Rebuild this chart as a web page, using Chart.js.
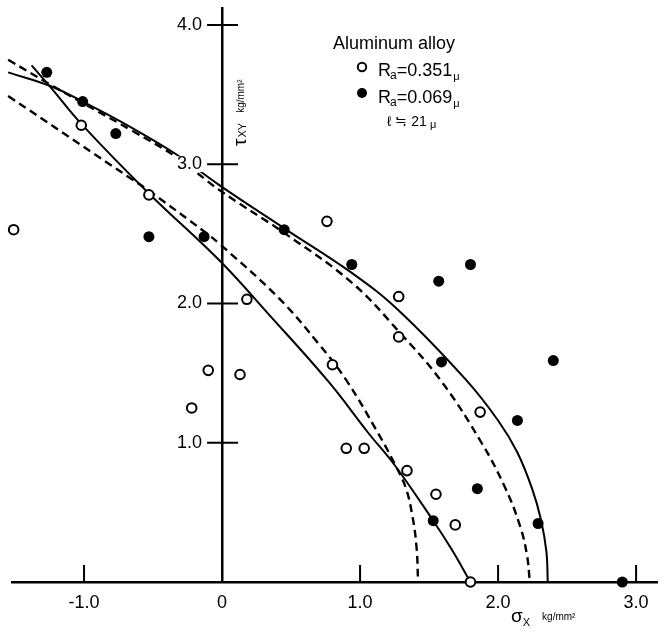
<!DOCTYPE html>
<html>
<head>
<meta charset="utf-8">
<script src="https://cdn.jsdelivr.net/npm/chart.js@4.4.1/dist/chart.umd.min.js"></script>
<style>
  html, body { margin: 0; padding: 0; background: #fff; }
</style>
</head>
<body>
<canvas id="myChart" width="664" height="633"></canvas>
<script>
const ctx = document.getElementById('myChart');

// tick values
const xTicks = [-1, 0, 1, 2, 3];
const yTicks = [1, 2, 3, 4];

// Ra = 0.351 (open circles)
const openX = [-1.51, -1.02, -0.53, -0.10, -0.22, 0.13, 0.18, 0.76, 0.80, 0.90, 1.03, 1.28, 1.28, 1.34, 1.55, 1.69, 1.87, 1.80];
const openY = [2.53, 3.28, 2.78, 1.52, 1.25, 1.49, 2.03, 2.59, 1.56, 0.96, 0.96, 2.05, 1.76, 0.80, 0.63, 0.41, 1.22, 0.00];

// Ra = 0.069 (filled circles)
const filledX = [-1.27, -1.01, -0.77, -0.53, -0.13, 0.45, 0.94, 1.57, 1.80, 1.59, 2.40, 2.14, 1.85, 1.53, 2.29, 2.90];
const filledY = [3.66, 3.45, 3.22, 2.48, 2.48, 2.53, 2.28, 2.16, 2.28, 1.58, 1.59, 1.16, 0.67, 0.44, 0.42, 0.00];

// curves
const solidInX = [-1.38, -1.24, -1.02, -0.53, -0.02, 0.34, 0.77, 1.06, 1.25, 1.53, 1.66, 1.80];
const solidInY = [3.71, 3.55, 3.29, 2.79, 2.31, 1.92, 1.44, 1.07, 0.84, 0.44, 0.24, 0.00];

const solidOutX = [-1.55, -1.24, -1.01, -0.65, -0.33, -0.02, 0.45, 0.94, 1.28, 1.76, 2.00, 2.14, 2.25, 2.31, 2.35, 2.36];
const solidOutY = [3.66, 3.56, 3.45, 3.26, 3.07, 2.85, 2.54, 2.22, 1.95, 1.46, 1.16, 0.93, 0.66, 0.45, 0.22, 0.00];

const dashInX = [-1.55, -0.65, -0.53, -0.12, -0.02, 0.41, 0.70, 0.90, 1.13, 1.25, 1.33, 1.38, 1.41, 1.42];
const dashInY = [3.49, 2.89, 2.81, 2.51, 2.43, 2.04, 1.71, 1.45, 1.07, 0.85, 0.68, 0.47, 0.24, 0.00];

const dashOutX = [-1.55, -1.24, -1.01, -0.65, -0.33, -0.02, 0.46, 0.94, 1.28, 1.59, 1.88, 2.05, 2.16, 2.21, 2.23];
const dashOutY = [3.75, 3.57, 3.44, 3.24, 3.05, 2.815, 2.50, 2.15, 1.80, 1.44, 1.00, 0.68, 0.40, 0.19, 0.00];

const pts = (xs, ys) => xs.map((x, i) => ({x: x, y: ys[i]}));

const curve = (xs, ys, dash) => ({
    data: pts(xs, ys),
    showLine: true,
    pointRadius: 0,
    borderColor: '#000',
    borderWidth: dash ? 2.4 : 2,
    borderDash: dash ? [8, 5] : [],
    tension: 0.4,
    clip: false
});

const font = 'Liberation Sans, Arial, sans-serif';

function txt(c, s, x, y, size) {
    c.font = size + 'px ' + font;
    c.fillText(s, x, y);
    return x + c.measureText(s).width;
}

const decor = {
    id: 'decor',
    afterDraw(chart) {
        const c = chart.ctx;
        const xs = chart.scales.x, ys = chart.scales.y;
        const x0 = xs.getPixelForValue(0), y0 = ys.getPixelForValue(0);
        c.save();
        c.strokeStyle = '#000';
        c.fillStyle = '#000';
        c.lineWidth = 2;
        // tick marks
        xTicks.forEach(v => {
            if (v === 0) return;
            const px = xs.getPixelForValue(v);
            c.beginPath(); c.moveTo(px, y0); c.lineTo(px, y0 - 17); c.stroke();
        });
        yTicks.forEach(v => {
            const py = ys.getPixelForValue(v);
            c.beginPath(); c.moveTo(x0 - 15, py); c.lineTo(x0 + 16, py); c.stroke();
        });

        // legend
        c.textBaseline = 'alphabetic';
        c.textAlign = 'left';
        txt(c, 'Aluminum alloy', 333, 49, 18);
        c.beginPath(); c.arc(362, 67, 4.2, 0, Math.PI * 2); c.lineWidth = 2; c.stroke();
        let x = txt(c, 'R', 378, 76, 18);
        x = txt(c, 'a', x - 1, 79, 12);
        x = txt(c, '=0.351', x, 76, 18);
        txt(c, 'μ', x + 1, 80, 11);
        c.beginPath(); c.arc(362, 93, 5, 0, Math.PI * 2); c.fill();
        x = txt(c, 'R', 378, 103, 18);
        x = txt(c, 'a', x - 1, 106, 12);
        x = txt(c, '=0.069', x, 103, 18);
        txt(c, 'μ', x + 1, 107, 11);
        x = txt(c, 'ℓ', 387, 126, 14);
        x = txt(c, ' ≒ 21', x, 126, 14);
        txt(c, ' μ', x, 128, 11);

        // y axis title (rotated)
        c.save();
        c.translate(241, 146);
        c.rotate(-Math.PI / 2);
        c.textBaseline = 'middle';
        x = txt(c, 'τ', 0, 0, 19);
        x = txt(c, 'XY', x + 1, 2, 11);
        txt(c, 'kg/mm²', x + 10, 0, 10);
        c.restore();

        // x axis title
        x = txt(c, 'σ', 511, 622, 19);
        x = txt(c, 'X', x, 626, 11);
        txt(c, 'kg/mm²', x + 12, 620, 10);
        c.restore();
    }
};

new Chart(ctx, {
    type: 'scatter',
    data: {
        datasets: [
            {
                label: 'Ra=0.351',
                data: pts(openX, openY),
                pointStyle: 'circle',
                pointRadius: 4.8,
                pointBorderWidth: 2,
                pointBorderColor: '#000',
                pointBackgroundColor: '#fff',
                clip: false
            },
            {
                label: 'Ra=0.069',
                data: pts(filledX, filledY),
                pointStyle: 'circle',
                pointRadius: 5.5,
                pointBorderWidth: 0,
                pointBackgroundColor: '#000',
                clip: false
            },
            curve(solidInX, solidInY, false),
            curve(solidOutX, solidOutY, false),
            curve(dashInX, dashInY, true),
            curve(dashOutX, dashOutY, true)
        ]
    },
    options: {
        responsive: false,
        animation: false,
        layout: { padding: { left: 12, right: 4, top: 8, bottom: 0 } },
        plugins: {
            legend: { display: false },
            tooltip: { enabled: false }
        },
        scales: {
            x: {
                type: 'linear',
                position: 'bottom',
                min: -1.522,
                max: 3.153,
                afterBuildTicks: s => { s.ticks = xTicks.map(v => ({value: v})); },
                afterFit: s => { s.height = 51; s.paddingLeft = 0; s.paddingRight = 0; },
                grid: { display: false, drawTicks: false },
                border: { display: true, color: '#000', width: 2.5 },
                ticks: {
                    color: '#000',
                    font: { family: font, size: 18 },
                    padding: 10,
                    maxRotation: 0,
                    autoSkip: false,
                    callback: v => v === 0 ? '0' : v.toFixed(1)
                }
            },
            y: {
                type: 'linear',
                position: { x: 0 },
                min: 0,
                max: 4.122,
                afterBuildTicks: s => { s.ticks = yTicks.map(v => ({value: v})); },
                afterFit: s => { s.paddingTop = 0; s.paddingBottom = 0; },
                grid: { display: false, drawTicks: false },
                border: { display: true, color: '#000', width: 2.5 },
                ticks: {
                    z: 1,
                    color: '#000',
                    font: { family: font, size: 18 },
                    autoSkip: false,
                    showLabelBackdrop: true,
                    backdropColor: '#fff',
                    backdropPadding: { top: -3, bottom: -3, left: 3, right: -17 },
                    callback: v => v.toFixed(1) + '    '
                }
            }
        }
    },
    plugins: [decor]
});
</script>
</body>
</html>
